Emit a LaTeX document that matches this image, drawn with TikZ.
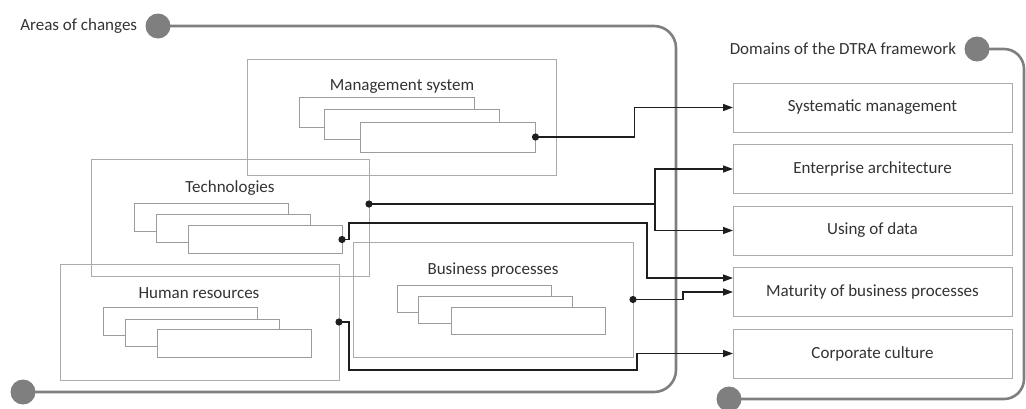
\documentclass[tikz,border=0pt]{standalone}
\usepackage{fontspec}
\setmainfont{Carlito}
\usetikzlibrary{positioning,arrows.meta}
\definecolor{framegray}{HTML}{ABABAB}
\definecolor{cardgray}{HTML}{9C9C9C}
\definecolor{railgray}{HTML}{7F7F7F}
\definecolor{linkblack}{HTML}{1E1E1E}
\definecolor{textgray}{HTML}{333333}
\tikzset{
  area/.style={draw=framegray, line width=0.9pt, inner sep=0pt, outer sep=0pt},
  card/.style={draw=cardgray, fill=white, line width=0.9pt, inner sep=0pt,
               outer sep=0pt, minimum width=154pt, minimum height=28pt},
  domainbox/.style={draw=framegray, fill=white, line width=0.9pt, inner sep=0pt,
                 outer sep=0pt, minimum width=279pt, minimum height=49pt,
                 text=textgray, font=\fontsize{17}{20}\selectfont},
  lbl/.style={text=textgray, font=\fontsize{17}{20}\selectfont, inner sep=0pt},
  link/.style={draw=linkblack, line width=1.4pt, ->},
  rail/.style={draw=railgray, line width=2.6pt, rounded corners=22pt},
  knob/.style={circle, fill=railgray, minimum size=25pt, inner sep=0pt}
}
\begin{document}
\begin{tikzpicture}[x=1pt, y=-1pt, >={Triangle[length=10pt,width=7pt]}]
  \useasboundingbox (0,0) rectangle (1026,408);

  % Rails (drawn first, knobs on top)
  \coordinate (areastop) at (158,26);
  \coordinate (areasend) at (23,392);
  \coordinate (domtop) at (977,49);
  \coordinate (domend) at (729,399);
  \draw[rail] (areastop) -- (676,26) -- (676,392) -- (areasend);
  \draw[rail, rounded corners=20pt] (domtop) -- (1024,49) -- (1024,399) -- (domend);
  \foreach \p in {areastop, areasend, domtop, domend} \node[knob] (\p k) at (\p) {};
  \node[lbl, left=8pt of areastopk] (areaslbl) {Areas of changes};
  \node[lbl, left=8pt of domtopk] (domlbl) {Domains of the DTRA framework};

  % Areas of changes
  \node[area, minimum width=309pt, minimum height=116pt] (mgmt) at (401.5,117) {};
  \node[area, minimum width=278pt, minimum height=117pt] (tech) at (230,217.5) {};
  \node[area, minimum width=279pt, minimum height=116pt] (hr) at (199.5,322) {};
  \node[area, minimum width=280pt, minimum height=115pt] (bp) at (493,299.5) {};

  \node[lbl] (mgmtlbl) at (402,87) {Management system};
  \node[lbl] (techlbl) at (230,188) {Technologies};
  \node[lbl] (hrlbl) at (199,293) {Human resources};
  \node[lbl] (bplbl) at (493,270) {Business processes};

  % Stacked cards
  \node[card, minimum width=175pt, minimum height=30pt] (ms1) at (386.5,112) {};
  \node[card, minimum width=175pt, minimum height=30pt] (ms2) at (412,124.5) {};
  \node[card, minimum width=175pt, minimum height=30pt] (ms3) at (448,137) {};

  \node[card] (tc1) at (211,217) {};
  \node[card] (tc2) at (233,228) {};
  \node[card] (tc3) at (265,239.5) {};

  \node[card, minimum height=27.5pt] (hr1) at (180,321.5) {};
  \node[card, minimum height=27.5pt] (hr2) at (202,333) {};
  \node[card, minimum height=27.5pt] (hr3) at (234.5,343.5) {};

  \node[card, minimum height=27pt] (bp1) at (474,299) {};
  \node[card, minimum height=27pt] (bp2) at (495.5,310) {};
  \node[card, minimum height=27pt] (bp3) at (528,321) {};

  % Domains of the DTRA framework
  \node[domainbox] (sys) at (872.5,107.5) {Systematic management};
  \node[domainbox, below=12.5pt of sys] (ent) {Enterprise architecture};
  \node[domainbox, below=12.5pt of ent] (dat) {Using of data};
  \node[domainbox, below=12.5pt of dat] (mat) {Maturity of business processes};
  \node[domainbox, below=12.5pt of mat] (cul) {Corporate culture};

  % Links
  \coordinate (tdot) at ([yshift=13.5pt]tech.east);
  \draw[link] (ms3.east) -- ++(99,0) |- (sys.west);
  \draw[link] (tdot) -- ++(286,0) coordinate (split) |- (ent.west);
  \draw[link] (split) |- (dat.west);
  \draw[link] (tc3.east) -- ++(7,0) -- ++(0,-16.5) -- ++(298,0) |- ([yshift=14pt]mat.west);
  \draw[link] (bp.east) -- ++(50,0) |- (mat.west);
  \draw[link] (hr.east) -- ++(10,0) -- ++(0,48) -- ++(288,0) |- (cul.west);

  \foreach \p in {ms3.east, tdot, tc3.east, bp.east, hr.east} \fill[linkblack] (\p) circle (3.6pt);
\end{tikzpicture}
\end{document}
